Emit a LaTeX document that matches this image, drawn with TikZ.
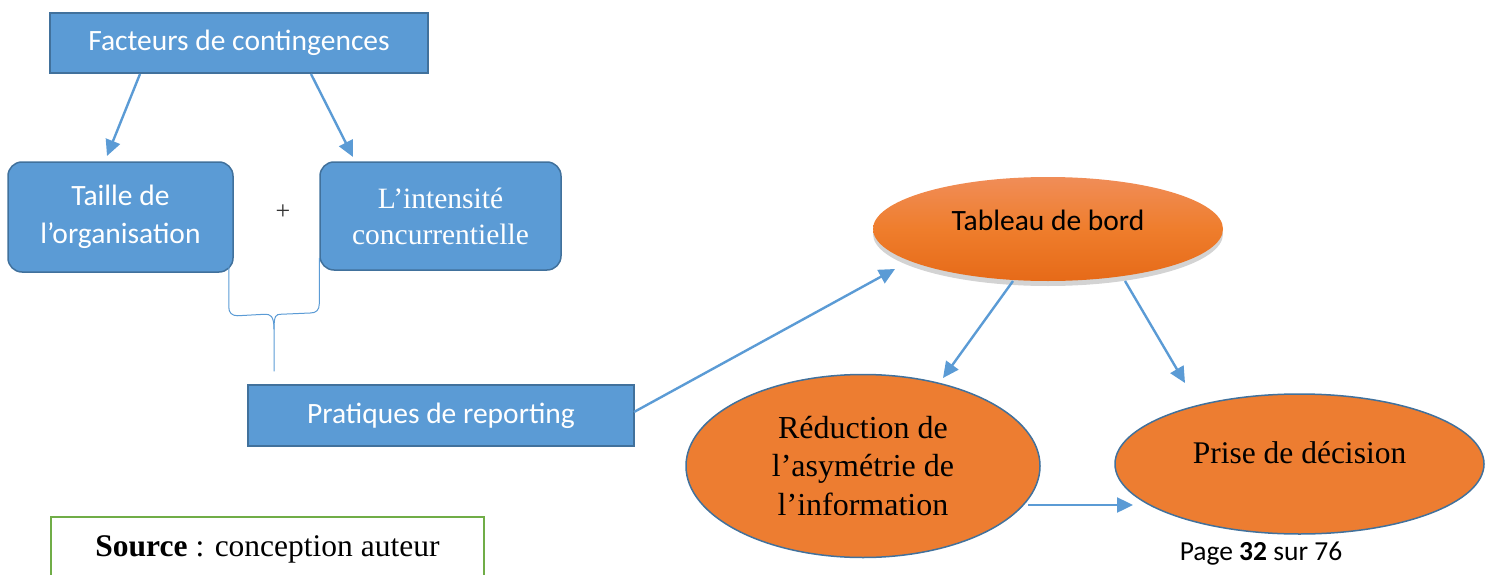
\documentclass[tikz,border=0pt]{standalone}
\usepackage{fontspec}
\setmainfont{Liberation Serif}
\newfontfamily\calib{Carlito}
\usetikzlibrary{arrows.meta,shadows,calc,shapes.geometric}
\definecolor{bfill}{HTML}{5B9BD5}
\definecolor{bdraw}{HTML}{41719C}
\definecolor{ofill}{HTML}{ED7D31}
\definecolor{gdraw}{HTML}{70AD47}
\definecolor{otop}{HTML}{F08D58}
\definecolor{obot}{HTML}{E66A18}
\begin{document}
\begin{tikzpicture}[x=1pt,y=-1pt,
  bluebox/.style={draw=bdraw, fill=bfill, line width=1.5pt, text=white, inner sep=0pt, align=center},
  cal/.style={font=\calib\fontsize{29.5}{38}\selectfont},
  tim/.style={font=\fontsize{29.5}{36}\selectfont},
  arr/.style={draw=bfill, line width=2.4pt, -{Triangle[length=16pt,width=15pt]}},
  orell/.style={ellipse, draw=bdraw, fill=ofill, line width=1.5pt, inner sep=0pt, align=center},
  bracel/.style={draw=bfill, line width=1pt}]
\useasboundingbox (0,0) rectangle (1490,575);
% boxes
\node[bluebox,cal,minimum width=378pt,minimum height=60pt] (fac) at (239,43) {Facteurs de contingences};
\node[bluebox,cal,rounded corners=14pt,minimum width=225pt,minimum height=110pt] (tai) at (120.5,217) {Taille de\\l’organisation};
\node[bluebox,tim,rounded corners=14pt,minimum width=241pt,minimum height=108pt] (int) at (440.5,216) {L’intensité\\concurrentielle};
\node[font=\fontsize{26}{30}\selectfont, text=black!80] (plus) at (283,212) {+};
\node[bluebox,cal,minimum width=386pt,minimum height=61pt] (pra) at (441,415.5) {Pratiques de reporting};
% ellipses
\node[ellipse, inner sep=0pt, minimum width=350pt, minimum height=104pt,
      top color=otop, bottom color=obot, middle color=ofill!90!orange,
      drop shadow={shadow xshift=0pt, shadow yshift=-5pt, opacity=0.35},
      font=\calib\fontsize{29.5}{36}\selectfont, text height=22pt, text depth=20pt] (tab) at (1048,229) {Tableau de bord};
\node[orell, minimum width=354pt, minimum height=183pt, font=\fontsize{32}{38.5}\selectfont] (red) at (863,466) {Réduction de\\l’asymétrie de\\l’information};
\node[orell, minimum width=369pt, minimum height=140pt, font=\fontsize{31.5}{36}\selectfont, text height=24pt, text depth=26pt] (pri) at (1299.5,464) {Prise de décision};
% page and source
\node[font=\calib\fontsize{27.5}{32}\selectfont, anchor=base] (page) at (1261,560) {Page \textbf{32} sur 76};
\node[draw=gdraw, line width=2pt, anchor=north west, minimum width=433pt, minimum height=64pt, inner sep=0pt,
      font=\fontsize{31.5}{36}\selectfont] (src) at (50,516) {\textbf{Source} : conception auteur};
% arrows
\draw[arr] ($(fac.center)+(-99,31)$) -- ($(tai.center)+(-13.5,-61)$);
\draw[arr] ($(fac.center)+(72,31)$) -- ($(int.center)+(-87.5,-59)$);
\draw[arr] ($(pra.center)+(193,-3.5)$) -- ($(tab.center)+(-153,40)$);
\draw[arr] ($(tab.center)+(-35,52)$) -- ($(red.center)+(80,-88)$);
\draw[arr] ($(tab.center)+(77,52)$) -- ($(pri.center)+(-114.5,-81)$);
\draw[arr] ($(red.center)+(165,39)$) -- ($(pri.center)+(-166.5,41)$);
% brace
\coordinate (bp) at ($(pra.north)+(-167,-13)$);
\draw[bracel] ($(tai.south east)+(-5,-12)$) -- ++(0,46) .. controls +(0,6) and +(-6,0) .. ++(9,9) -- ($(bp)+(-9,-57)$)
  .. controls +(5,0) and +(0,-14) .. ($(bp)+(0,-42)$) -- (bp);
\draw[bracel] ($(int.west)+(0,42)$) -- ++(0,46) .. controls +(0,6) and +(6,0) .. ++(-9,9) -- ($(bp)+(7,-57)$)
  .. controls +(-5,0) and +(0,-14) .. ($(bp)+(0,-42)$);
\end{tikzpicture}
\end{document}
